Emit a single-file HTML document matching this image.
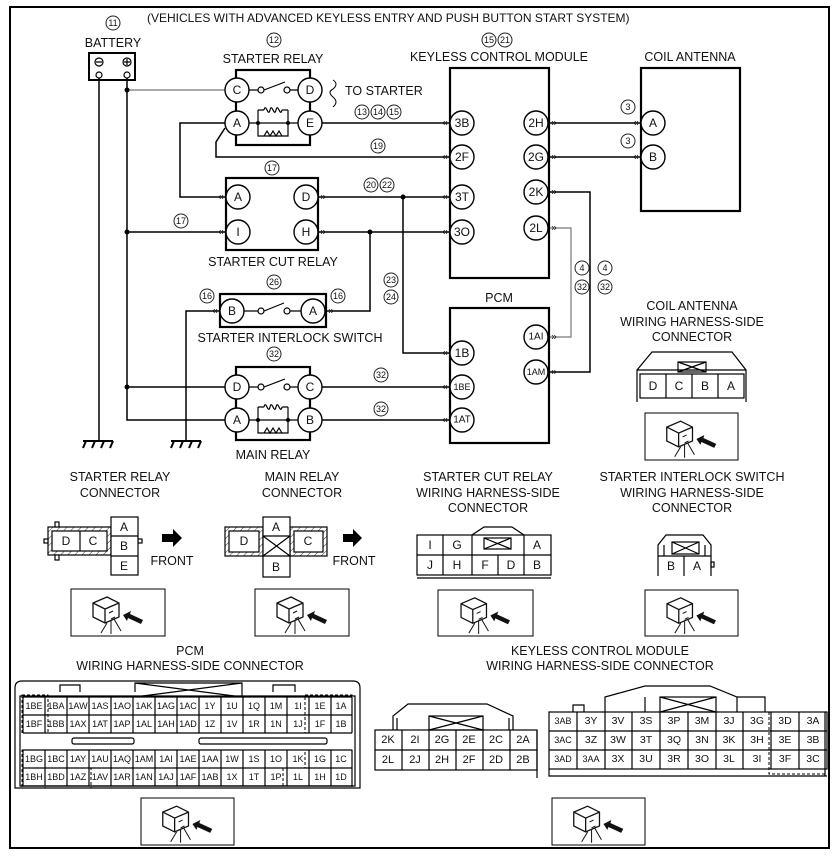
<!DOCTYPE html>
<html><head><meta charset="utf-8"><style>
html,body{margin:0;padding:0;background:#fff}
svg{display:block}
text{font-family:"Liberation Sans",sans-serif;fill:#111}
</style></head><body>
<svg width="838" height="862" viewBox="0 0 838 862" xmlns="http://www.w3.org/2000/svg">
<defs>
<pattern id="h" width="5" height="5" patternUnits="userSpaceOnUse" patternTransform="rotate(45)"><line x1="0" y1="0" x2="0" y2="5" stroke="#333" stroke-width="1"/></pattern>
<symbol id="ic" viewBox="0 0 94 47">
<path d="M22 14 L36 8 L48 14 L48 28 L34 34 L22 28 Z M22 14 L34 20 L48 14 M34 20 L34 34" fill="#fff" stroke="#111" stroke-width="1.3"/>
<path d="M38 24 L42 22 M40 30 L44 28 M36 34 L30 44 M40 32 L40 45 M43 30 L50 42" stroke="#111" stroke-width="1" fill="none"/>
<path d="M52 26 L60 22 L59 25 L72 31 L70 35 L57 29 L56 32 Z" fill="#111"/>
</symbol>
</defs>
<rect x="10" y="7" width="819" height="841" fill="none" stroke="#000" stroke-width="2"/>
<g font-size="12">
<text x="147" y="22">(VEHICLES WITH ADVANCED KEYLESS ENTRY AND PUSH BUTTON START SYSTEM)</text>
</g>
<g fill="none" stroke="#222" stroke-width="1">
<circle cx="113" cy="23" r="7"/><circle cx="274" cy="40" r="7"/>
<circle cx="489" cy="40" r="7"/><circle cx="505" cy="40" r="7"/>
<circle cx="362" cy="112" r="7"/><circle cx="378" cy="112" r="7"/><circle cx="394" cy="112" r="7"/>
<circle cx="378" cy="146" r="7"/><circle cx="272" cy="168" r="7"/><circle cx="181" cy="221" r="7"/>
<circle cx="371" cy="185" r="7"/><circle cx="387" cy="185" r="7"/>
<circle cx="274" cy="282" r="7"/><circle cx="207" cy="296" r="7"/><circle cx="338" cy="296" r="7"/>
<circle cx="391" cy="280" r="7"/><circle cx="391" cy="297" r="7"/>
<circle cx="274" cy="354" r="7"/><circle cx="381" cy="375" r="7"/><circle cx="381" cy="409" r="7"/>
<circle cx="628" cy="107" r="7"/><circle cx="628" cy="141" r="7"/>
<circle cx="582" cy="268" r="7"/><circle cx="605" cy="268" r="7"/><circle cx="582" cy="287" r="7"/><circle cx="605" cy="287" r="7"/>
</g>
<g font-size="9" text-anchor="middle" dominant-baseline="central">
<text x="113" y="23">11</text><text x="274" y="40">12</text><text x="489" y="40">15</text><text x="505" y="40">21</text>
<text x="362" y="112">13</text><text x="378" y="112">14</text><text x="394" y="112">15</text>
<text x="378" y="146">19</text><text x="272" y="168">17</text><text x="181" y="221">17</text>
<text x="371" y="185">20</text><text x="387" y="185">22</text>
<text x="274" y="282">26</text><text x="207" y="296">16</text><text x="338" y="296">16</text>
<text x="391" y="280">23</text><text x="391" y="297">24</text>
<text x="274" y="354">32</text><text x="381" y="375">32</text><text x="381" y="409">32</text>
<text x="628" y="107">3</text><text x="628" y="141">3</text>
<text x="582" y="268">4</text><text x="605" y="268">4</text><text x="582" y="287">32</text><text x="605" y="287">32</text>
</g>
<g font-size="12.5" text-anchor="middle">
<text x="113" y="47">BATTERY</text>
<text x="273" y="63">STARTER RELAY</text>
<text x="499" y="61">KEYLESS CONTROL MODULE</text>
<text x="690" y="61">COIL ANTENNA</text>
<text x="273" y="266">STARTER CUT RELAY</text>
<text x="290" y="342">STARTER INTERLOCK SWITCH</text>
<text x="273" y="459">MAIN RELAY</text>
<text x="499" y="302">PCM</text>
<text x="692" y="310">COIL ANTENNA</text>
<text x="692" y="326">WIRING HARNESS-SIDE</text>
<text x="692" y="341">CONNECTOR</text>
<text x="345" y="95" text-anchor="start">TO STARTER</text>
</g>
<rect x="89" y="53" width="46" height="27" fill="none" stroke="#000" stroke-width="2"/>
<g fill="none" stroke="#000" stroke-width="1.2">
<circle cx="99" cy="62" r="4"/><circle cx="127" cy="62" r="4"/><circle cx="99" cy="75" r="3"/><circle cx="127" cy="75" r="3"/>
<path d="M96 62h6M124 62h6M127 59v6"/>
</g>
<g fill="none" stroke="#000" stroke-width="1.5">
<path d="M99 78V440M127 78V420H225"/>
<path d="M127 232H226M127 387H225"/>
<path d="M186 440V311H220"/>
<path d="M322 123H450M225 123H180V197H226"/>
<path d="M225 128L216 142V157H450"/>
<path d="M318 197H450M403 197V353H450"/>
<path d="M318 232H450M370 232V311H326"/>
<path d="M322 387H450M322 420H450"/>
<path d="M549 123H641M549 157H641"/>
<path d="M549 192H590V372H549"/>
</g>
<g fill="none" stroke="#777" stroke-width="1.2"><path d="M127 90H225M549 228H571V337H549"/></g>
<g fill="#000"><circle cx="127" cy="90" r="2.5"/><circle cx="127" cy="232" r="2.5"/><circle cx="127" cy="387" r="2.5"/><circle cx="403" cy="197" r="2.5"/><circle cx="370" cy="232" r="2.5"/></g>
<g stroke="#000" stroke-width="2" fill="none"><path d="M83 441H113M86 441l-3 7M95 441l-3 7M104 441l-3 7M113 441l-3 7M171 441H201M174 441l-3 7M183 441l-3 7M192 441l-3 7M201 441l-3 7"/></g>
<g fill="none" stroke="#000" stroke-width="2.2">
<rect x="236" y="70" width="74" height="75"/>
<rect x="226" y="178" width="92" height="72"/>
<rect x="220" y="294" width="106" height="33"/>
<rect x="236" y="367" width="74" height="73"/>
<rect x="450" y="68" width="99" height="210"/>
<rect x="641" y="68" width="99" height="143"/>
<rect x="450" y="308" width="99" height="135"/>
</g>
<path d="M333 80q6 4 0 9q-6 3 0 8q6 5 0 10" fill="none" stroke="#000" stroke-width="1"/>
<g fill="none" stroke="#000" stroke-width="1.2">
<path d="M249 90H258M264 90L285 82M290 90H298"/><circle cx="261" cy="90" r="3"/><circle cx="287" cy="90" r="3"/>
<path d="M249 123H298M258 110V136H288V110M258 110h6M282 110h6M264 110c2-8 4 8 6 0c2-8 4 8 6 0c2-8 4 8 6 0M264 136l3-5 3 5 3-5 3 5 3-5 3 5"/>
<path d="M249 387H258M264 387L285 379M290 387H298"/><circle cx="261" cy="387" r="3"/><circle cx="287" cy="387" r="3"/>
<path d="M249 420H298M258 407V433H288V407M258 407h6M282 407h6M264 407c2-8 4 8 6 0c2-8 4 8 6 0c2-8 4 8 6 0M264 433l3-5 3 5 3-5 3 5 3-5 3 5"/>
<path d="M244 311H258M264 311L284 303M290 311H301"/><circle cx="261" cy="311" r="3"/><circle cx="287" cy="311" r="3"/>
</g>
<g fill="#000"><circle cx="258" cy="123" r="2"/><circle cx="288" cy="123" r="2"/><circle cx="258" cy="420" r="2"/><circle cx="288" cy="420" r="2"/></g>
<g fill="#fff" stroke="#000" stroke-width="1.4">
<circle cx="237" cy="90" r="12"/><circle cx="310" cy="90" r="12"/><circle cx="237" cy="123" r="12"/><circle cx="310" cy="123" r="12"/>
<circle cx="238" cy="197" r="12"/><circle cx="306" cy="197" r="12"/><circle cx="238" cy="232" r="12"/><circle cx="306" cy="232" r="12"/>
<circle cx="232" cy="311" r="12"/><circle cx="313" cy="311" r="12"/>
<circle cx="237" cy="387" r="12"/><circle cx="310" cy="387" r="12"/><circle cx="237" cy="420" r="12"/><circle cx="310" cy="420" r="12"/>
<circle cx="462" cy="123" r="12"/><circle cx="462" cy="157" r="12"/><circle cx="462" cy="197" r="12"/><circle cx="462" cy="232" r="12"/>
<circle cx="536" cy="123" r="12"/><circle cx="536" cy="157" r="12"/><circle cx="536" cy="192" r="12"/><circle cx="536" cy="228" r="12"/>
<circle cx="653" cy="123" r="12"/><circle cx="653" cy="157" r="12"/>
<circle cx="462" cy="353" r="12"/><circle cx="462" cy="387" r="12"/><circle cx="462" cy="420" r="12"/>
<circle cx="536" cy="337" r="12"/><circle cx="536" cy="372" r="12"/>
</g>
<g font-size="12" text-anchor="middle" dominant-baseline="central">
<text x="237" y="90">C</text><text x="310" y="90">D</text><text x="237" y="123">A</text><text x="310" y="123">E</text>
<text x="238" y="197">A</text><text x="306" y="197">D</text><text x="238" y="232">I</text><text x="306" y="232">H</text>
<text x="232" y="311">B</text><text x="313" y="311">A</text>
<text x="237" y="387">D</text><text x="310" y="387">C</text><text x="237" y="420">A</text><text x="310" y="420">B</text>
<text x="462" y="123">3B</text><text x="462" y="157">2F</text><text x="462" y="197">3T</text><text x="462" y="232">3O</text>
<text x="536" y="123">2H</text><text x="536" y="157">2G</text><text x="536" y="192">2K</text><text x="536" y="228">2L</text>
<text x="653" y="123">A</text><text x="653" y="157">B</text>
<text x="462" y="353">1B</text><text x="462" y="387" font-size="9">1BE</text><text x="462" y="420" font-size="10">1AT</text>
<text x="536" y="337" font-size="10">1AI</text><text x="536" y="372" font-size="9">1AM</text>
</g>
<g font-size="10" dominant-baseline="central" text-anchor="middle">
<text x="445" y="123">«</text><text x="445" y="157">«</text><text x="445" y="197">«</text><text x="445" y="232">«</text>
<text x="445" y="353">«</text><text x="445" y="387">«</text><text x="445" y="420">«</text>
<text x="554" y="123">»</text><text x="554" y="157">»</text><text x="554" y="192">»</text><text x="554" y="228">»</text>
<text x="554" y="337">»</text><text x="554" y="372">»</text>
<text x="636" y="123">«</text><text x="636" y="157">«</text>
<text x="221" y="197">«</text><text x="221" y="232">«</text><text x="323" y="197">»</text><text x="323" y="232">»</text>
<text x="215" y="311">«</text><text x="331" y="311">»</text>
</g>
<g fill="none" stroke="#000" stroke-width="1.2">
<path d="M637 402V370L652 352H732L746 370V402M637 370H746"/>
<rect x="640" y="374" width="104" height="24"/><path d="M666 374v24M692 374v24M718 374v24"/>
<rect x="678" y="362" width="28" height="10"/><path d="M678 362l28 10M706 362l-28 10"/>
</g>
<g font-size="12" text-anchor="middle" dominant-baseline="central"><text x="653" y="386">D</text><text x="679" y="386">C</text><text x="705" y="386">B</text><text x="731" y="386">A</text></g>
<g fill="#fff" stroke="#000" stroke-width="1">
<rect x="645" y="413" width="93" height="47"/><rect x="71" y="589" width="94" height="47"/><rect x="255" y="589" width="94" height="47"/>
<rect x="438" y="590" width="95" height="46"/><rect x="645" y="590" width="93" height="46"/>
<rect x="141" y="798" width="93" height="47"/><rect x="552" y="798" width="93" height="47"/>
</g>
<use href="#ic" x="645" y="413" width="93" height="47"/><use href="#ic" x="71" y="589" width="94" height="47"/><use href="#ic" x="255" y="589" width="94" height="47"/>
<use href="#ic" x="438" y="590" width="95" height="46"/><use href="#ic" x="645" y="590" width="93" height="46"/>
<use href="#ic" x="141" y="798" width="93" height="47"/><use href="#ic" x="552" y="798" width="93" height="47"/>
<g font-size="12.5" text-anchor="middle">
<text x="120" y="481">STARTER RELAY</text><text x="120" y="497">CONNECTOR</text>
<text x="302" y="481">MAIN RELAY</text><text x="302" y="497">CONNECTOR</text>
<text x="488" y="481">STARTER CUT RELAY</text><text x="488" y="497">WIRING HARNESS-SIDE</text><text x="488" y="512">CONNECTOR</text>
<text x="692" y="481">STARTER INTERLOCK SWITCH</text><text x="692" y="497">WIRING HARNESS-SIDE</text><text x="692" y="512">CONNECTOR</text>
<text x="190" y="655">PCM</text><text x="190" y="670">WIRING HARNESS-SIDE CONNECTOR</text>
<text x="600" y="655">KEYLESS CONTROL MODULE</text><text x="600" y="670">WIRING HARNESS-SIDE CONNECTOR</text>
<text x="172" y="565">FRONT</text><text x="354" y="565">FRONT</text>
</g>
<g stroke="#000" stroke-width="1.2">
<rect x="48" y="527" width="63" height="28" fill="url(#h)"/><rect x="52" y="531" width="55" height="20" fill="#fff"/><path d="M80 531v20"/>
<rect x="55" y="522" width="4" height="5" fill="#fff"/><rect x="55" y="555" width="4" height="5" fill="#fff"/><rect x="44" y="539" width="4" height="4" fill="#fff"/><rect x="138" y="539" width="4" height="4" fill="#fff"/>
<rect x="111" y="517" width="27" height="58" fill="#fff"/><path d="M111 536h27M111 556h27"/>
<rect x="225" y="527" width="38" height="29" fill="url(#h)"/><rect x="229" y="531" width="30" height="21" fill="#fff"/>
<rect x="290" y="527" width="37" height="29" fill="url(#h)"/><rect x="294" y="531" width="29" height="21" fill="#fff"/>
<rect x="263" y="517" width="27" height="60" fill="#fff"/><path d="M263 536h27M263 556h27M263 536l27 20M290 536l-27 20"/>
</g>
<path d="M162 534h11v-5l9 9-9 9v-5h-11z M343 534h10v-5l9 9-9 9v-5h-10z" fill="#000"/>
<g font-size="12" text-anchor="middle" dominant-baseline="central">
<text x="66" y="541">D</text><text x="93" y="541">C</text><text x="124" y="527">A</text><text x="124" y="546">B</text><text x="124" y="566">E</text>
<text x="276" y="527">A</text><text x="244" y="541">D</text><text x="308" y="541">C</text><text x="276" y="567">B</text>
</g>
<g fill="none" stroke="#000" stroke-width="1.2">
<rect x="417" y="535" width="134" height="40"/><path d="M417 555h134M443 535v40M472 535v40M524 535v40M498 555v20M472 535l12-8h28l12 8M417 578h134"/>
<rect x="484" y="538" width="27" height="11"/><path d="M484 538l27 11M511 538l-27 11"/>
<path d="M658 576V545l8-10h37l8 10V576M658 556h53M684 556v20M664 545v11M705 545v11"/>
<rect x="672" y="542" width="27" height="12"/><path d="M672 542l27 12M699 542l-27 12"/>
<rect x="711" y="562" width="3" height="5"/>
</g>
<g font-size="12" text-anchor="middle" dominant-baseline="central">
<text x="430" y="545">I</text><text x="457" y="545">G</text><text x="537" y="545">A</text>
<text x="430" y="565">J</text><text x="457" y="565">H</text><text x="485" y="565">F</text><text x="511" y="565">D</text><text x="537" y="565">B</text>
<text x="671" y="566">B</text><text x="697" y="566">A</text>
</g>
<g fill="none" stroke="#000" stroke-width="1.2">
<path d="M15 788V688q0-7 7-7H353q7 0 7 7V788Z"/>
<path d="M20 786V696H355V786Z"/>
<path d="M60 692V685H80V692M135 692V683H242V697M135 683L242 697M242 683L135 697M273 692V685H295V692"/>
<path d="M23 697H352M23 715H352M23 733H352M23 750H352M23 768H352M23 786H352"/>
<path d="M23 697V733M45 697V733M67 697V733M89 697V733M111 697V733M133 697V733M155 697V733M177 697V733M199 697V733M221 697V733M243 697V733M265 697V733M287 697V733M309 697V733M331 697V733M352 697V733"/>
<path d="M23 750V786M45 750V786M67 750V786M89 750V786M111 750V786M133 750V786M155 750V786M177 750V786M199 750V786M221 750V786M243 750V786M265 750V786M287 750V786M309 750V786M331 750V786M352 750V786"/>
<rect x="72" y="738" width="62" height="6" rx="2"/><rect x="199" y="738" width="128" height="6" rx="2"/>
</g>
<g fill="none" stroke="#000" stroke-width="1" stroke-dasharray="3,2">
<path d="M22 695H48V733H22ZM305 695H352V733H305ZM22 750H45V788H22ZM305 750H352V768H305ZM283 768H352V788H283ZM45 768H91V788H45Z"/>
</g>
<g font-size="9" text-anchor="middle" dominant-baseline="central">
<text x="34" y="706">1BE</text><text x="56" y="706">1BA</text><text x="78" y="706">1AW</text><text x="100" y="706">1AS</text><text x="122" y="706">1AO</text><text x="144" y="706">1AK</text><text x="166" y="706">1AG</text><text x="188" y="706">1AC</text><text x="210" y="706">1Y</text><text x="232" y="706">1U</text><text x="254" y="706">1Q</text><text x="276" y="706">1M</text><text x="298" y="706">1I</text><text x="320" y="706">1E</text><text x="341" y="706">1A</text>
<text x="34" y="724">1BF</text><text x="56" y="724">1BB</text><text x="78" y="724">1AX</text><text x="100" y="724">1AT</text><text x="122" y="724">1AP</text><text x="144" y="724">1AL</text><text x="166" y="724">1AH</text><text x="188" y="724">1AD</text><text x="210" y="724">1Z</text><text x="232" y="724">1V</text><text x="254" y="724">1R</text><text x="276" y="724">1N</text><text x="298" y="724">1J</text><text x="320" y="724">1F</text><text x="341" y="724">1B</text>
<text x="34" y="759">1BG</text><text x="56" y="759">1BC</text><text x="78" y="759">1AY</text><text x="100" y="759">1AU</text><text x="122" y="759">1AQ</text><text x="144" y="759">1AM</text><text x="166" y="759">1AI</text><text x="188" y="759">1AE</text><text x="210" y="759">1AA</text><text x="232" y="759">1W</text><text x="254" y="759">1S</text><text x="276" y="759">1O</text><text x="298" y="759">1K</text><text x="320" y="759">1G</text><text x="341" y="759">1C</text>
<text x="34" y="777">1BH</text><text x="56" y="777">1BD</text><text x="78" y="777">1AZ</text><text x="100" y="777">1AV</text><text x="122" y="777">1AR</text><text x="144" y="777">1AN</text><text x="166" y="777">1AJ</text><text x="188" y="777">1AF</text><text x="210" y="777">1AB</text><text x="232" y="777">1X</text><text x="254" y="777">1T</text><text x="276" y="777">1P</text><text x="298" y="777">1L</text><text x="320" y="777">1H</text><text x="341" y="777">1D</text>
</g>
<g fill="none" stroke="#000" stroke-width="1.2">
<rect x="375" y="730" width="162" height="40"/><path d="M375 750H537M402 730v40M429 730v40M456 730v40M483 730v40M510 730v40M537 730V778"/>
<path d="M393 730V716L408 704H487L513 716V730M397 730V718M509 730V718"/>
<rect x="429" y="716" width="54" height="14"/><path d="M429 716l54 14M483 716l-54 14"/>
</g>
<g font-size="11" text-anchor="middle" dominant-baseline="central">
<text x="388" y="740">2K</text><text x="415" y="740">2I</text><text x="442" y="740">2G</text><text x="469" y="740">2E</text><text x="496" y="740">2C</text><text x="523" y="740">2A</text>
<text x="388" y="760">2L</text><text x="415" y="760">2J</text><text x="442" y="760">2H</text><text x="469" y="760">2F</text><text x="496" y="760">2D</text><text x="523" y="760">2B</text>
</g>
<g fill="none" stroke="#000" stroke-width="1.2">
<rect x="549" y="712" width="278" height="57"/><path d="M549 731H827M549 750H827M577 712v57M605 712v57M632 712v57M660 712v57M688 712v57M716 712v57M743 712v57M771 712v57M799 712v57"/>
<path d="M549 769V776H827M825 712V776M573 712V705H584V712"/>
<path d="M605 712V697L645 686H710L737 697H765V712M645 697V712M737 697V712"/>
<rect x="660" y="697" width="56" height="15"/><path d="M660 697l56 15M716 697l-56 15"/>
</g>
<path d="M769 712V774H827" fill="none" stroke="#000" stroke-dasharray="3,2"/>
<g font-size="10.5" text-anchor="middle" dominant-baseline="central">
<text x="563" y="721" font-size="9">3AB</text><text x="591" y="721">3Y</text><text x="618" y="721">3V</text><text x="646" y="721">3S</text><text x="674" y="721">3P</text><text x="702" y="721">3M</text><text x="729" y="721">3J</text><text x="757" y="721">3G</text><text x="785" y="721">3D</text><text x="813" y="721">3A</text>
<text x="563" y="740" font-size="9">3AC</text><text x="591" y="740">3Z</text><text x="618" y="740">3W</text><text x="646" y="740">3T</text><text x="674" y="740">3Q</text><text x="702" y="740">3N</text><text x="729" y="740">3K</text><text x="757" y="740">3H</text><text x="785" y="740">3E</text><text x="813" y="740">3B</text>
<text x="563" y="759" font-size="9">3AD</text><text x="591" y="759" font-size="9">3AA</text><text x="618" y="759">3X</text><text x="646" y="759">3U</text><text x="674" y="759">3R</text><text x="702" y="759">3O</text><text x="729" y="759">3L</text><text x="757" y="759">3I</text><text x="785" y="759">3F</text><text x="813" y="759">3C</text>
</g>
</svg>
</body></html>
